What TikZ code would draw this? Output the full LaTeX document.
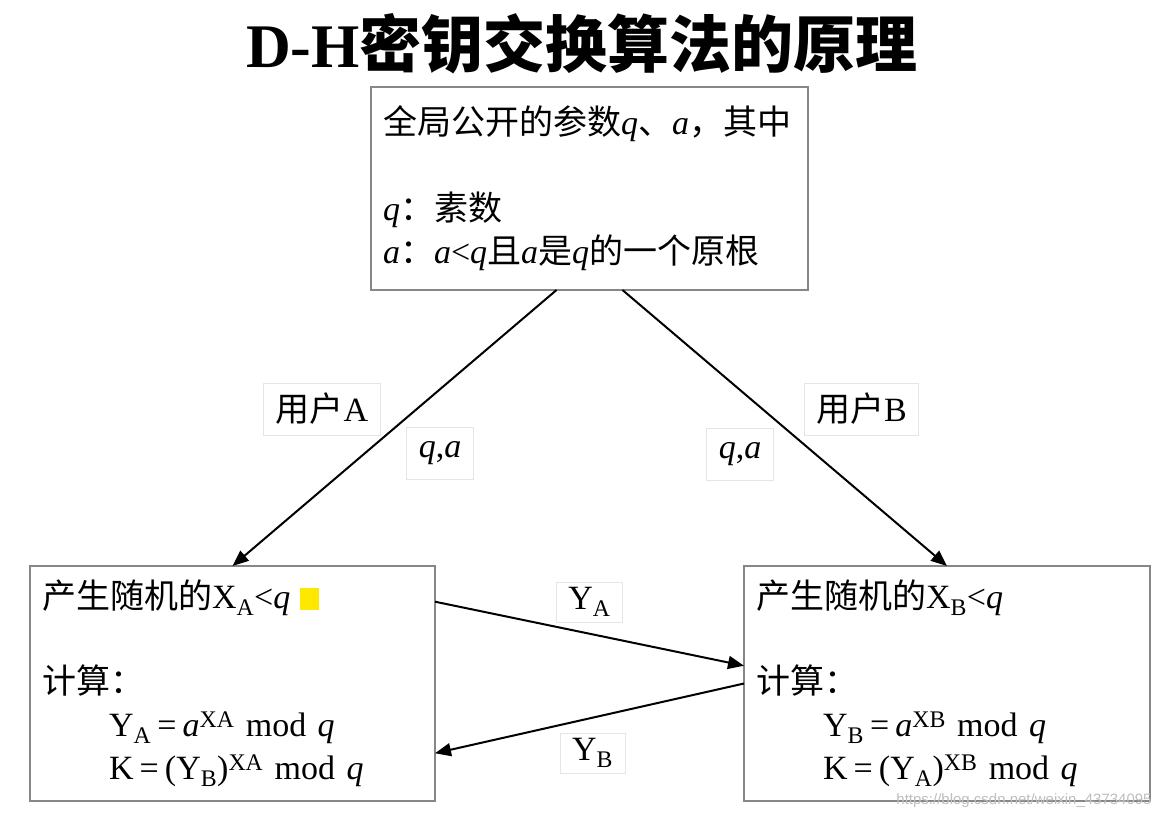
\documentclass[tikz,border=0pt]{standalone}
\usepackage{fontspec}
\setmainfont{Liberation Serif}
\newfontfamily\cjk{Noto Sans CJK SC}
\newfontfamily\wmfont{Liberation Sans}
\usetikzlibrary{arrows.meta}
\definecolor{dhgray}{RGB}{135,135,135}
\definecolor{dhyellow}{RGB}{255,232,0}
\newcommand\zh[1]{{\cjk #1}}
\newcommand\var[1]{\textit{#1}}
\newcommand\eq{\hspace{.18em}=\hspace{.18em}}

\begin{document}
\begin{tikzpicture}[
  x=1pt, y=-1pt, >={Triangle[length=16pt,width=13pt]},
  body/.style={font=\fontsize{34}{43}\selectfont},
  party/.style={body,draw=dhgray,line width=1.4pt,fill=white,outer sep=0pt,
    inner xsep=12pt,align=left},
  lbl/.style={body,draw=black!10,line width=.8pt,fill=white,
    minimum height=52pt,inner xsep=12pt},
  arr/.style={->,line width=2pt}
]
\useasboundingbox (0,0) rectangle (1170,820);

\node[font=\fontsize{62}{62}\selectfont\bfseries] (title) at (582,44)
 {D-H\zh{密钥交换算法的原理}};

\node[party,minimum width=437pt,minimum height=203pt,text width=413pt] (pub) at (589.5,188.5)
 {\zh{全局公开的参数}\var{q}\zh{、}\var{a}\zh{，其中}\\[43pt]
  \var{q}\zh{：素数}\\
  \var{a}\zh{：}\var{a}<\var{q}\zh{且}\var{a}\zh{是}\var{q}\zh{的一个原根}};

\node[party,minimum width=405pt,minimum height=235pt,text width=381pt] (userA) at (232.5,683.5)
 {\zh{产生随机的}X\textsubscript{A}<\var{q}\hspace{10pt}{\color{dhyellow}\rule[-1pt]{19pt}{22pt}}\\[42pt]
  \zh{计算：}\\
  \hspace*{67pt}Y\textsubscript{A}\eq\var{a}\textsuperscript{XA} mod \var{q}\\
  \hspace*{67pt}K\eq(Y\textsubscript{B})\textsuperscript{XA} mod \var{q}};

\node[party,minimum width=406pt,minimum height=235pt,text width=382pt] (userB) at (947,683.5)
 {\zh{产生随机的}X\textsubscript{B}<\var{q}\\[42pt]
  \zh{计算：}\\
  \hspace*{67pt}Y\textsubscript{B}\eq\var{a}\textsuperscript{XB} mod \var{q}\\
  \hspace*{67pt}K\eq(Y\textsubscript{A})\textsuperscript{XB} mod \var{q}};

% public parameters go down to both users
\draw[arr] (pub.-108.3) -- (userA.north);
\draw[arr] (pub.-72.2) -- (userB.north);
\node[lbl] (nameA) at (322,409) {\zh{用户}A};
\node[lbl] (paramA) at (440,453.5) {\var{q},\var{a}};
\node[lbl] (nameB) at (861.5,409) {\zh{用户}B};
\node[lbl] (paramB) at (740,454) {\var{q},\var{a}};

% exchange of the public values
\draw[arr] (userA.22.4) -- (userB.175.1);
\draw[arr] (userB.west) -- (userA.-19.4);
\node[lbl,minimum height=40pt] (sendA) at (589.5,602) {Y\textsubscript{A}};
\node[lbl,minimum height=40pt] (sendB) at (592.5,753) {Y\textsubscript{B}};

\node[font=\wmfont\fontsize{15}{15}\selectfont,text=black!25] (mark) at (1024,801)
 {https://blog.csdn.net/weixin\_43734095};
\end{tikzpicture}
\end{document}
